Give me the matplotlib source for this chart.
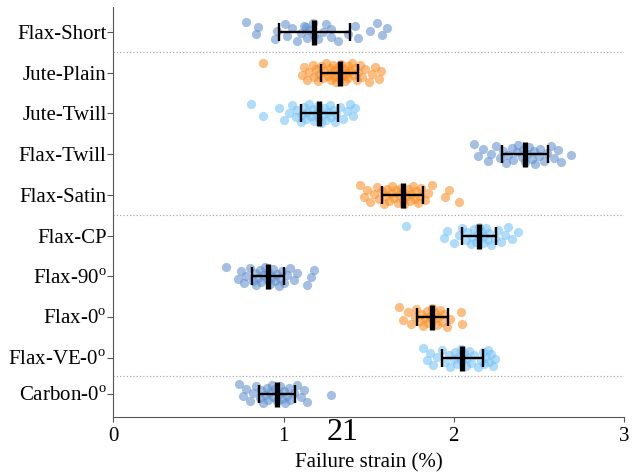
import numpy as np
import matplotlib
matplotlib.use('agg')
from matplotlib import pyplot as plt

# categories, top to bottom
labels = ['Flax-Short', 'Jute-Plain', 'Jute-Twill', 'Flax-Twill', 'Flax-Satin',
          'Flax-CP', 'Flax-90$^{\\rm o}$', 'Flax-0$^{\\rm o}$', 'Flax-VE-0$^{\\rm o}$',
          'Carbon-0$^{\\rm o}$']

# failure strain (%) of each specimen
flax_short = [0.78, 0.84, 0.85, 0.95, 0.96, 1.01, 1.02, 1.05, 1.08, 1.10, 1.12, 1.14, 1.15,
              1.17, 1.18, 1.13, 1.20, 1.23, 1.25, 1.28, 1.28, 1.32, 1.38, 1.42, 1.44, 1.51,
              1.55, 1.58, 1.61]
jute_plain = [0.88, 1.11, 1.12, 1.14, 1.15, 1.17, 1.18, 1.19, 1.20, 1.21, 1.22, 1.23, 1.24,
              1.25, 1.26, 1.27, 1.28, 1.28, 1.29, 1.30, 1.30, 1.31, 1.32, 1.32, 1.33, 1.34,
              1.34, 1.35, 1.36, 1.36, 1.37, 1.38, 1.38, 1.39, 1.40, 1.41, 1.42, 1.43, 1.44,
              1.45, 1.46, 1.48, 1.50, 1.52, 1.54, 1.56, 1.57]
jute_twill = [0.81, 0.88, 0.97, 1.00, 1.03, 1.05, 1.07, 1.08, 1.10, 1.11, 1.12, 1.13, 1.14,
              1.15, 1.16, 1.17, 1.18, 1.19, 1.20, 1.20, 1.21, 1.22, 1.23, 1.24, 1.25, 1.26,
              1.27, 1.28, 1.29, 1.30, 1.31, 1.33, 1.35, 1.37, 1.39, 1.41, 1.42]
flax_twill = [2.12, 2.14, 2.17, 2.20, 2.22, 2.25, 2.27, 2.29, 2.31, 2.32, 2.34, 2.35, 2.37,
              2.38, 2.40, 2.41, 2.42, 2.43, 2.44, 2.46, 2.47, 2.48, 2.50, 2.51, 2.53, 2.55,
              2.57, 2.59, 2.61, 2.63, 2.69]
flax_satin = [1.45, 1.47, 1.49, 1.51, 1.53, 1.55, 1.56, 1.58, 1.59, 1.60, 1.61, 1.62, 1.63,
              1.64, 1.65, 1.66, 1.67, 1.68, 1.69, 1.70, 1.70, 1.71, 1.72, 1.73, 1.74, 1.75,
              1.76, 1.77, 1.78, 1.79, 1.80, 1.81, 1.83, 1.85, 1.87, 1.95, 1.97, 2.03]
flax_cp = [1.72, 1.94, 1.96, 2.00, 2.03, 2.05, 2.07, 2.08, 2.10, 2.11, 2.12, 2.13, 2.14,
           2.15, 2.15, 2.16, 2.17, 2.18, 2.19, 2.20, 2.21, 2.22, 2.24, 2.26, 2.28, 2.30,
           2.32, 2.34, 2.38]
flax_90 = [0.66, 0.73, 0.75, 0.77, 0.78, 0.80, 0.82, 0.83, 0.84, 0.85, 0.86, 0.87, 0.88,
           0.89, 0.90, 0.91, 0.92, 0.93, 0.94, 0.95, 0.96, 0.97, 0.98, 0.99, 1.00, 1.02,
           1.04, 1.06, 1.08, 1.14, 1.16, 1.18]
flax_0 = [1.68, 1.70, 1.73, 1.75, 1.77, 1.78, 1.80, 1.81, 1.82, 1.83, 1.84, 1.85, 1.86,
          1.87, 1.88, 1.89, 1.90, 1.91, 1.92, 1.93, 1.94, 1.96, 1.98, 2.04, 2.05]
flax_ve_0 = [1.82, 1.84, 1.86, 1.88, 1.90, 1.93, 1.95, 1.97, 1.98, 2.00, 2.01, 2.02, 2.03,
             2.04, 2.05, 2.06, 2.07, 2.08, 2.09, 2.10, 2.12, 2.14, 2.16, 2.17, 2.18, 2.19,
             2.20, 2.21, 2.22, 2.23, 2.24]
carbon_0 = [0.74, 0.76, 0.78, 0.80, 0.82, 0.84, 0.86, 0.87, 0.88, 0.89, 0.90, 0.91, 0.92,
            0.93, 0.94, 0.95, 0.96, 0.97, 0.98, 0.99, 1.00, 1.01, 1.02, 1.03, 1.04, 1.06,
            1.08, 1.10, 1.12, 1.14, 1.28]

groups = [flax_short, jute_plain, jute_twill, flax_twill, flax_satin,
          flax_cp, flax_90, flax_0, flax_ve_0, carbon_0]

means = [1.18, 1.33, 1.21, 2.42, 1.70, 2.15, 0.91, 1.875, 2.05, 0.96]
sds = [0.21, 0.11, 0.11, 0.135, 0.12, 0.10, 0.095, 0.09, 0.12, 0.105]

# styling
blue, orange, light = '#5b8ccd', '#fb8a1c', '#6ec0f7'
colors = [blue, orange, light, blue, orange, light, blue, orange, light, blue]
ypos = [0, 1, 2, 3, 4, 5, 6, 7, 8, 8.88]
separators = [0.5, 4.5, 8.45]

plt.rcParams['font.family'] = ['Liberation Serif', 'DejaVu Serif']
plt.rcParams['mathtext.fontset'] = 'custom'
plt.rcParams['mathtext.rm'] = 'Liberation Serif'

fig = plt.figure(figsize=(6.34, 4.72), dpi=100)
ax = fig.add_axes([0.179, 0.1155, 0.805, 0.870])

for y, vals, c, m, s in zip(ypos, groups, colors, means, sds):
    n = len(vals)
    jit = np.array([((i * 0.618034) % 1.0) - 0.5 for i in range(n)]) * 0.48
    ax.scatter(vals, y + jit, s=44, color=c, alpha=0.55, linewidths=0, zorder=2)
    ax.errorbar(m, y, xerr=s, fmt='none', ecolor='black', elinewidth=1.7,
                capsize=6.5, capthick=1.7, zorder=3)
    ax.plot(m, y, marker='|', markersize=18, markeredgewidth=3.8, color='black', zorder=4)

for sy in separators:
    ax.axhline(sy, color='#aaaaaa', linestyle=':', linewidth=0.9, zorder=1)

ax.set_xlim(0, 3)
ax.set_ylim(9.46, -0.613)
ax.set_xticks([0, 1, 2, 3])
ax.set_yticks(ypos)
ax.set_yticklabels(labels, fontsize=15)
ax.tick_params(axis='x', labelsize=15, length=3.5, color='#555555')
ax.tick_params(axis='y', length=4, pad=1, color='#555555')
for side in ['top', 'right']:
    ax.spines[side].set_visible(False)
for side in ['left', 'bottom']:
    ax.spines[side].set_color('#555555')
ax.set_xlabel('Failure strain (%)', fontsize=15, labelpad=5)

ax.text(1.347, -0.056, '21', transform=ax.get_xaxis_transform(), ha='center',
        va='baseline', fontsize=23)

fig.savefig('out.png', dpi=100)
